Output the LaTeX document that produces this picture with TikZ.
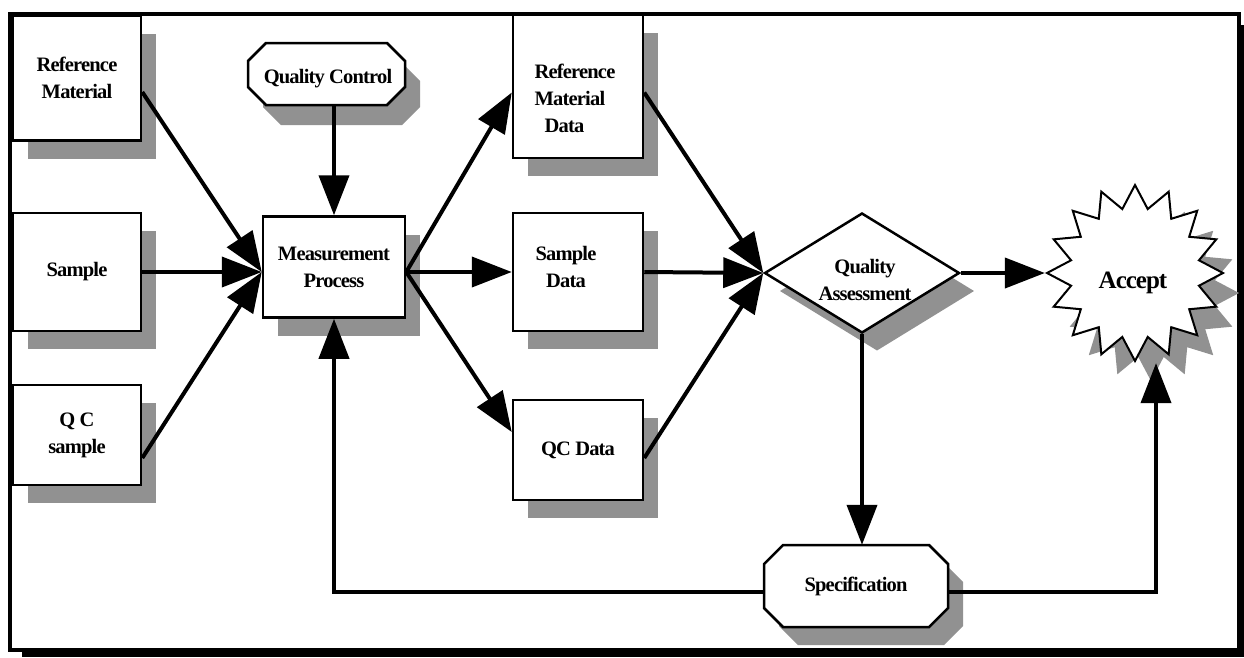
\documentclass[tikz,border=0pt]{standalone}
\usepackage{fontspec}
\setmainfont{Liberation Serif}[LetterSpace=-4]
\usetikzlibrary{shapes.geometric,shadows,arrows.meta,calc}
\definecolor{shadowgray}{RGB}{145,145,145}
% octagon outline: centre x, centre y, half width, half height, chamfer
\newcommand\octpath[5]{(#1-#3+#5,#2-#4) -- (#1+#3-#5,#2-#4) -- (#1+#3,#2-#4+#5) -- (#1+#3,#2+#4-#5) -- (#1+#3-#5,#2+#4) -- (#1-#3+#5,#2+#4) -- (#1-#3,#2+#4-#5) -- (#1-#3,#2-#4+#5) -- cycle}
\begin{document}
\begin{tikzpicture}[x=1pt,y=-1pt,
  every node/.style={font=\bfseries\fontsize{20.5}{27}\selectfont, align=center},
  sh/.style={drop shadow={shadow xshift=15pt,shadow yshift=-18pt,fill=shadowgray,opacity=1}},
  box/.style={draw, line width=2.5pt, fill=white, sh, rectangle, inner sep=0pt},
  octline/.style={draw, line width=2.5pt, fill=white},
  flow/.style={line width=4pt, -{Triangle[length=40pt,width=30pt]}}
]
\useasboundingbox (0,0) rectangle (1244,657);
% frame with its black drop shadow
\fill[black] (22,25) rectangle (1244,657);
\draw[line width=4.5pt, fill=white] (10,14) rectangle (1239,650);

% inputs
\node[box, minimum width=128pt, minimum height=125pt] (rm) at (77,78) {Reference\\Material};
\node[box, minimum width=128pt, minimum height=118pt] (smp) at (77,272) {Sample};
\node[box, minimum width=128pt, minimum height=100pt] (qcs) at (77,435) {Q C\\sample};

% quality control
\fill[shadowgray, shift={(15,20)}] \octpath{326.5}{74}{78.5}{31}{18};
\path[octline] \octpath{326.5}{74}{78.5}{31}{18};
\node[minimum width=157pt, minimum height=62pt, inner sep=0pt] (qc) at (326.5,74) {};
\node (qct) at (328,79) {Quality Control};

% measurement
\node[box, minimum width=142pt, minimum height=101pt] (mp) at (334,267) {Measurement\\Process};

% data
\node[box, minimum width=130pt, minimum height=143pt] (rmd) at (578,86.5) {};
\node[align=left] (rmdt) at (575,98) {Reference\\Material\\\hspace*{10pt}Data};
\node[box, minimum width=130pt, minimum height=118pt] (sd) at (578,272) {};
\node (sdt) at (566,267) {Sample\\Data};
\node[box, minimum width=130pt, minimum height=100pt] (qcd) at (578,450) {QC Data};

% assessment
\node[diamond, draw, line width=2.5pt, fill=white, sh, minimum width=195pt, minimum height=120pt, inner sep=0pt] (qa) at (862,273) {};
\node (qat) at (865,280) {Quality\\Assessment};

% accept
\node[star, star points=16, star point ratio=1.35, draw, line width=2pt, fill=white,
  drop shadow={shadow xshift=16pt,shadow yshift=-20pt,fill=shadowgray,opacity=1},
  minimum size=176pt, inner sep=0pt] (acc) at (1135,273) {};
\node[font=\bfseries\fontsize{25}{28}\selectfont] (acct) at (1133,283) {Accept};

% specification
\fill[shadowgray, shift={(15,18)}] \octpath{856}{586}{92}{41}{19};
\path[octline] \octpath{856}{586}{92}{41}{19};
\node[minimum width=184pt, minimum height=82pt, inner sep=0pt] (spec) at (856,586) {Specification};

% connectors
\coordinate (turn) at (1156,592);
\draw[flow] ([yshift=-14pt]rm.east) -- ([yshift=-5pt]mp.west);
\draw[flow] (smp.east) -- ([yshift=-5pt]mp.west);
\draw[flow] ([yshift=-23pt]qcs.east) -- ([yshift=-5pt]mp.west);
\draw[flow] (mp.north |- qc.south) -- (mp.north);
\draw[flow] ([yshift=-5pt]mp.east) -- ([yshift=-6pt]rmd.west);
\draw[flow] ([yshift=-5pt]mp.east) -- (sd.west);
\draw[flow] ([yshift=-5pt]mp.east) -- ([yshift=18pt]qcd.west);
\draw[flow] ([yshift=-6pt]rmd.east) -- (qa.west);
\draw[flow] (sd.east) -- (qa.west);
\draw[flow] ([yshift=-8pt]qcd.east) -- (qa.west);
\draw[flow] (qa.east) -- (acc.west);
\draw[flow] (qa.south) -- (qa.south |- spec.north);
\draw[flow] ([yshift=-6pt]spec.west) -| (mp.south);
\draw[flow] ([yshift=-6pt]spec.east) -- (turn) -- (turn |- acc.south);
\end{tikzpicture}
\end{document}
